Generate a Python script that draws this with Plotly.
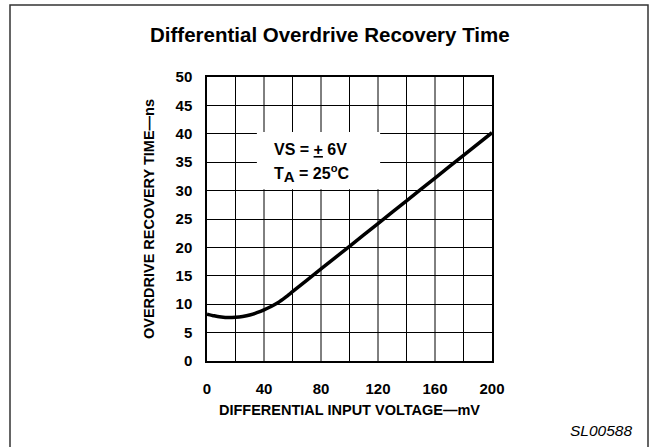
import plotly.graph_objects as go

# Data
voltage_mv = [0, 5, 10, 15, 20, 25, 30, 35, 40, 45, 50, 55, 60, 80, 100, 120, 140, 160, 180, 200]
recovery_ns = [8.25, 7.95, 7.75, 7.65, 7.7, 7.85, 8.1, 8.5, 9.0, 9.6, 10.3, 11.2, 12.2, 16.2, 20.2, 24.2, 28.2, 32.2, 36.2, 40.2]
x_ticks = [0, 40, 80, 120, 160, 200]
y_ticks = [0, 5, 10, 15, 20, 25, 30, 35, 40, 45, 50]

FONT = "Liberation Sans, Arial, sans-serif"

fig = go.Figure()
fig.add_trace(go.Scatter(
    x=voltage_mv, y=recovery_ns, mode="lines",
    line=dict(color="black", width=3.5, shape="spline", smoothing=0.5),
    hoverinfo="skip", showlegend=False,
))

fig.update_layout(
    width=652, height=447,
    margin=dict(l=207, r=160, t=77, b=86),
    paper_bgcolor="white", plot_bgcolor="white",
    font=dict(family=FONT, color="black"),
    showlegend=False,
)

fig.update_xaxes(
    range=[0, 200], tickvals=x_ticks,
    ticktext=[f"<b>{v}</b>" for v in x_ticks],
    showgrid=False, zeroline=False,
    showline=True, linecolor="black", linewidth=1.5, mirror=True,
    ticks="outside", ticklen=13, tickcolor="rgba(0,0,0,0)",
    tickfont=dict(size=15, family=FONT),
    title=dict(text="<b>DIFFERENTIAL INPUT VOLTAGE—mV</b>", font=dict(size=14.5, family=FONT), standoff=9),
    fixedrange=True,
)
fig.update_yaxes(
    range=[0, 50], tickvals=y_ticks,
    ticktext=[f"<b>{v}</b>" for v in y_ticks],
    showgrid=True, gridcolor="black", gridwidth=1,
    zeroline=False,
    showline=True, linecolor="black", linewidth=1.5, mirror=True,
    ticks="outside", ticklen=10, tickcolor="rgba(0,0,0,0)",
    tickfont=dict(size=15, family=FONT),
    title=dict(text="<b>OVERDRIVE RECOVERY TIME—ns</b>", font=dict(size=14.5, family=FONT), standoff=17),
    fixedrange=True,
)

# vertical grid lines every 20 mV
for gx in range(20, 200, 20):
    fig.add_shape(type="line", xref="x", yref="y", x0=gx, x1=gx, y0=0, y1=50,
                  line=dict(color="black", width=1), layer="below")

# white box behind the conditions text
fig.add_shape(type="rect", xref="x", yref="y", x0=35, x1=121.5, y0=30.25, y1=40.3,
              fillcolor="white", line=dict(width=0), layer="above")

# outer border of the figure
fig.add_shape(type="rect", xref="paper", yref="paper",
              x0=-197/285, x1=(648-207)/285, y0=-0.35, y1=(361-5)/284,
              line=dict(color="#333", width=1.5), fillcolor="rgba(0,0,0,0)")

fig.add_annotation(
    text="<b>Differential Overdrive Recovery Time</b>",
    xref="paper", yref="paper", x=(330-207)/285, y=(361-35)/284,
    showarrow=False, font=dict(size=20.5, family=FONT), xanchor="center", yanchor="middle",
)
fig.add_annotation(
    text="<b>VS = <u>+</u> 6V</b>",
    xref="x", yref="y", x=45.5, y=37.3, xanchor="left", yanchor="middle",
    showarrow=False, font=dict(size=16, family=FONT),
)
fig.add_annotation(
    text="<b>T<sub><span style='font-size:15px'>A</span></sub> = 25<sup>o</sup>C</b>",
    xref="x", yref="y", x=45.5, y=33.0, xanchor="left", yanchor="middle",
    showarrow=False, font=dict(size=16, family=FONT),
)
fig.add_annotation(
    text="<i>SL00588</i>",
    xref="paper", yref="paper", x=(634-207)/285, y=(361-431)/284,
    xanchor="right", yanchor="middle",
    showarrow=False, font=dict(size=15.5, family=FONT),
)

fig.write_html("out.html", config={"displayModeBar": False},
               post_script="document.body.style.margin='0';")
